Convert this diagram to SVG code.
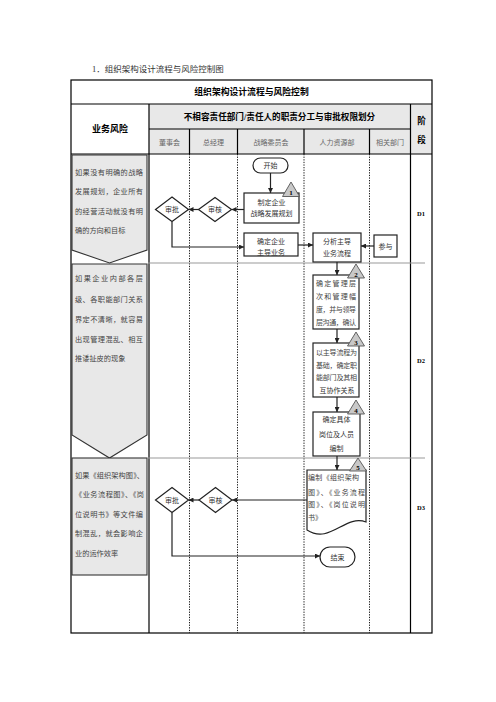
<svg xmlns="http://www.w3.org/2000/svg" width="496" height="702" viewBox="0 0 496 702">
<defs>
<marker id="ah" viewBox="0 0 10 10" refX="10" refY="5" markerWidth="5" markerHeight="5" markerUnits="userSpaceOnUse" orient="auto">
<path d="M0,0 L10,5 L0,10 Z" fill="#222"/>
</marker>
</defs>
<style>
text{font-family:"Liberation Serif","Noto Sans CJK SC",serif;fill:#333}
.t{font-size:7px;text-anchor:middle}
.h{font-size:7px;text-anchor:middle;fill:#666}
.b{font-weight:bold;fill:#000;text-anchor:middle}
.r{font-size:7.2px;fill:#444}
.box{fill:#fff;stroke:#222;stroke-width:1.2}
.risk{fill:#e8e8e8;stroke:#333;stroke-width:1.1}
.tri{fill:#c8c8c8;stroke:#555;stroke-width:0.9}
.num{font-size:7px;font-weight:bold;fill:#000;text-anchor:middle}
.frame{stroke:#000;stroke-width:1.2;fill:none}
.dot{stroke:#000;stroke-width:0.9;stroke-dasharray:1.3,1.3}
.sep{stroke:#999;stroke-width:1}
.c{fill:none;stroke:#222;stroke-width:1.2}
.ca{fill:none;stroke:#222;stroke-width:1.2;marker-end:url(#ah)}
</style>
<text x="92" y="72" style="font-size:8.5px;fill:#333">1．组织架构设计流程与风险控制图</text>
<g id="table">
<rect x="149" y="104" width="283" height="50" fill="#e8e8e8"/>
<rect x="71" y="80" width="361" height="553" class="frame"/>
<line x1="71" y1="104" x2="432" y2="104" class="frame"/>
<line x1="71" y1="154" x2="432" y2="154" class="frame"/>
<line x1="149" y1="129" x2="410" y2="129" class="frame"/>
<line x1="149" y1="104" x2="149" y2="633" class="frame"/>
<line x1="410.5" y1="104" x2="410.5" y2="633" class="frame"/>
<line x1="189.5" y1="129" x2="189.5" y2="154" class="frame"/>
<line x1="237.5" y1="129" x2="237.5" y2="154" class="frame"/>
<line x1="304" y1="129" x2="304" y2="154" class="frame"/>
<line x1="369.5" y1="129" x2="369.5" y2="154" class="frame"/>
<line x1="189.5" y1="154" x2="189.5" y2="633" class="dot"/>
<line x1="237.5" y1="154" x2="237.5" y2="633" class="dot"/>
<line x1="304" y1="154" x2="304" y2="633" class="dot"/>
<line x1="369.5" y1="154" x2="369.5" y2="633" class="dot"/>
<line x1="148" y1="263" x2="425" y2="263" class="sep"/>
<line x1="148" y1="458" x2="425" y2="458" class="sep"/>
<text x="251.5" y="95" class="b" style="font-size:8.8px">组织架构设计流程与风险控制</text>
<text x="279.5" y="120" class="b" style="font-size:8.6px">不相容责任部门/责任人的职责分工与审批权限划分</text>
<text x="110" y="132" class="b" style="font-size:9px">业务风险</text>
<text x="421.5" y="124" class="b" style="font-size:8.6px">阶</text>
<text x="421.5" y="143" class="b" style="font-size:8.6px">段</text>
<text x="169.5" y="144.5" class="h">董事会</text>
<text x="213.5" y="144.5" class="h">总经理</text>
<text x="271" y="144.5" class="h">战略委员会</text>
<text x="337" y="144.5" class="h">人力资源部</text>
<text x="390" y="144.5" class="h">相关部门</text>
<text x="421" y="215.5" class="b" style="font-size:6.5px">D1</text>
<text x="421" y="362.5" class="b" style="font-size:6.5px">D2</text>
<text x="421" y="509.5" class="b" style="font-size:6.5px">D3</text>
</g>
<g id="risk1">
<path d="M72,155 H147 V250 L109.5,263 L72,250 Z" class="risk"/>
<text x="75" y="174.5" class="r" textLength="68" lengthAdjust="spacing">如果没有明确的战略</text>
<text x="75" y="194" class="r" textLength="68" lengthAdjust="spacing">发展规划，企业所有</text>
<text x="75" y="214" class="r" textLength="68" lengthAdjust="spacing">的经营活动就没有明</text>
<text x="75" y="233" class="r">确的方向和目标</text>
</g>
<g id="risk2">
<path d="M72,264 H147 V435 L109.5,458 L72,435 Z" class="risk"/>
<text x="75" y="280.5" class="r" textLength="68" lengthAdjust="spacing">如果企业内部各层</text>
<text x="75" y="302" class="r" textLength="68" lengthAdjust="spacing">级、各职能部门关系</text>
<text x="75" y="322" class="r" textLength="68" lengthAdjust="spacing">界定不清晰，就容易</text>
<text x="75" y="342" class="r" textLength="68" lengthAdjust="spacing">出现管理混乱、相互</text>
<text x="75" y="361" class="r">推诿扯皮的现象</text>
</g>
<g id="risk3">
<rect x="72" y="458" width="75" height="117" class="risk"/>
<text x="75" y="477.5" class="r" textLength="69" lengthAdjust="spacing">如果《组织架构图》、</text>
<text x="75" y="496.5" class="r" textLength="69" lengthAdjust="spacing">《业务流程图》、《岗</text>
<text x="75" y="516.5" class="r" textLength="68" lengthAdjust="spacing">位说明书》等文件编</text>
<text x="75" y="535.5" class="r" textLength="68" lengthAdjust="spacing">制混乱，就会影响企</text>
<text x="75" y="555.5" class="r">业的运作效率</text>
</g>
<g id="connectors">
<path d="M270.5,173 V193" class="ca"/>
<path d="M244,209.5 H231.5" class="ca"/>
<path d="M199,209.5 H188.5" class="ca"/>
<path d="M172,221.5 V247 H244" class="ca"/>
<path d="M298,245 H313" class="ca"/>
<path d="M374,246 H361" class="ca"/>
<path d="M337,262 V275" class="ca"/>
<path d="M337,329 V343" class="ca"/>
<path d="M337,397 V412" class="ca"/>
<path d="M337,456 V470" class="ca"/>
<path d="M307,500 H232" class="ca"/>
<path d="M199,500 H188.5" class="ca"/>
<path d="M172,512.5 V556 H320" class="ca"/>
</g>
<g id="start">
<rect x="253" y="158" width="35" height="15" rx="7.5" class="box"/>
<text x="270.5" y="168" class="t">开始</text>
</g>
<g id="n1">
<rect x="244" y="193" width="55" height="30" class="box"/>
<text x="271.5" y="204.5" class="t">制定企业</text>
<text x="271.5" y="216" class="t">战略发展规划</text>
<path d="M291,182 L299.5,196.5 L282.5,196.5 Z" class="tri"/>
<text x="291" y="195" class="num">1</text>
</g>
<g id="d1a">
<path d="M172,197 L188.5,209.5 L172,221.5 L155.5,209.5 Z" class="box"/>
<text x="172" y="212" class="t">审批</text>
</g>
<g id="d1b">
<path d="M215,197.5 L231.5,209.5 L215,221.5 L198.5,209.5 Z" class="box"/>
<text x="215" y="212" class="t">审核</text>
</g>
<g id="n_biz">
<rect x="244" y="233" width="54" height="23" class="box"/>
<text x="271" y="243.5" class="t">确定企业</text>
<text x="271" y="254.5" class="t">主导业务</text>
</g>
<g id="n_flow">
<rect x="313" y="233" width="48" height="29" class="box"/>
<text x="337" y="243.5" class="t">分析主导</text>
<text x="337" y="255.5" class="t">业务流程</text>
</g>
<g id="n_join">
<rect x="374" y="235" width="23" height="22" class="box"/>
<text x="385.5" y="248.5" class="t">参与</text>
</g>
<g id="n2">
<rect x="313" y="275" width="46" height="54" class="box"/>
<text x="316" y="285.5" class="r" style="font-size:7px" textLength="40" lengthAdjust="spacing">确定管理层</text>
<text x="316" y="298.5" class="r" style="font-size:7px" textLength="40" lengthAdjust="spacing">次和管理幅</text>
<text x="316" y="312" class="r" style="font-size:7px" textLength="40" lengthAdjust="spacing">度，并与领导</text>
<text x="316" y="324.5" class="r" style="font-size:7px" textLength="40" lengthAdjust="spacing">层沟通，确认</text>
<path d="M356,264 L364.5,278 L347.5,278 Z" class="tri"/>
<text x="356" y="276.5" class="num">2</text>
</g>
<g id="n3">
<rect x="313" y="343" width="46" height="54" class="box"/>
<text x="316" y="354.5" class="r" style="font-size:7px" textLength="41" lengthAdjust="spacing">以主导流程为</text>
<text x="316" y="367.5" class="r" style="font-size:7px" textLength="41" lengthAdjust="spacing">基础，确定职</text>
<text x="316" y="379.5" class="r" style="font-size:7px" textLength="41" lengthAdjust="spacing">能部门及其相</text>
<text x="337" y="392.5" class="t">互协作关系</text>
<path d="M356,332 L364.5,346 L347.5,346 Z" class="tri"/>
<text x="356" y="344.5" class="num">3</text>
</g>
<g id="n4">
<rect x="313" y="412" width="47" height="44" class="box"/>
<text x="336.5" y="421.5" class="t">确定具体</text>
<text x="336.5" y="436.5" class="t">岗位及人员</text>
<text x="336.5" y="450.5" class="t">编制</text>
<path d="M356,400 L364.5,414 L347.5,414 Z" class="tri"/>
<text x="356" y="412.5" class="num">4</text>
</g>
<g id="n5">
<path d="M307,470 H366 V522 C345,514 330,545 307,530 Z" class="box"/>
<text x="308" y="479.5" class="r" style="font-size:7px" textLength="51" lengthAdjust="spacing">编制《组织架构</text>
<text x="308" y="494.5" class="r" style="font-size:7px" textLength="57" lengthAdjust="spacing">图》、《业务流程</text>
<text x="308" y="506.5" class="r" style="font-size:7px" textLength="57" lengthAdjust="spacing">图》、《岗位说明</text>
<text x="308" y="519.5" class="r" style="font-size:7px">书》</text>
<path d="M358,458 L366.5,471 L349.5,471 Z" class="tri"/>
<text x="358" y="469.5" class="num">5</text>
</g>
<g id="d3a">
<path d="M172,487.5 L188.5,500 L172,512.5 L155.5,500 Z" class="box"/>
<text x="172" y="502.5" class="t">审批</text>
</g>
<g id="d3b">
<path d="M215.5,487.5 L232,500 L215.5,512.5 L199,500 Z" class="box"/>
<text x="215.5" y="502.5" class="t">审核</text>
</g>
<g id="end">
<rect x="320" y="547" width="35" height="20" rx="10" class="box"/>
<text x="337.5" y="559.5" class="t">结束</text>
</g>
</svg>
